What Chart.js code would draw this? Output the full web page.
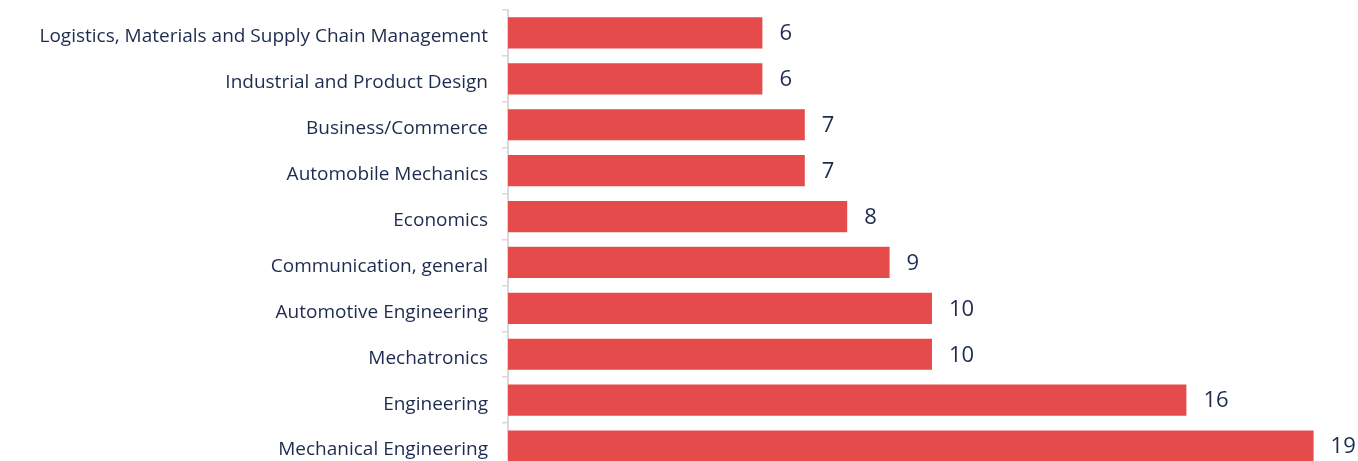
<!DOCTYPE html>
<html>
<head>
<meta charset="utf-8">
<script src="https://cdn.jsdelivr.net/npm/chart.js@4"></script>
<style>
  html, body { margin: 0; padding: 0; background: #fff; overflow: hidden; }
  canvas { display: block; }
</style>
</head>
<body>
<canvas id="chart" width="1358" height="470"></canvas>
<script>
const categories = [
  'Logistics, Materials and Supply Chain Management',
  'Industrial and Product Design',
  'Business/Commerce',
  'Automobile Mechanics',
  'Economics',
  'Communication, general',
  'Automotive Engineering',
  'Mechatronics',
  'Engineering',
  'Mechanical Engineering'
];
const counts = [6, 6, 7, 7, 8, 9, 10, 10, 16, 19];

const barColor = '#E54B4B';
const textColor = '#1d2b4f';

// value labels at the end of each bar
const valueLabels = {
  id: 'valueLabels',
  afterDatasetsDraw(chart) {
    const ctx = chart.ctx;
    const meta = chart.getDatasetMeta(0);
    ctx.save();
    ctx.font = '22px "Open Sans"';
    ctx.fillStyle = textColor;
    ctx.textAlign = 'left';
    ctx.textBaseline = 'middle';
    meta.data.forEach((bar, i) => {
      ctx.fillText(String(counts[i]), bar.x + 17, bar.y + 1);
    });
    ctx.restore();
  }
};

new Chart(document.getElementById('chart'), {
  type: 'bar',
  data: {
    labels: categories,
    datasets: [{
      data: counts,
      backgroundColor: barColor,
      borderWidth: 0,
      categoryPercentage: 0.68,
      barPercentage: 1
    }]
  },
  options: {
    indexAxis: 'y',
    responsive: false,
    devicePixelRatio: 1,
    animation: false,
    layout: { padding: { top: 10, right: 2, bottom: 1, left: 0 } },
    plugins: {
      legend: { display: false },
      tooltip: { enabled: false }
    },
    scales: {
      x: {
        display: false,
        min: 0,
        max: 20
      },
      y: {
        afterFit(scale) {
          scale.width = 508;
          scale.paddingTop = 0;
          scale.paddingBottom = 0;
        },
        border: { color: '#d9d9d9', width: 2 },
        grid: {
          drawOnChartArea: false,
          tickLength: 6,
          color: '#d9d9d9',
          lineWidth: 1.5
        },
        ticks: {
          color: textColor,
          padding: 14,
          labelOffset: 4,
          autoSkip: false,
          font: { family: '"Open Sans"', size: 19 }
        }
      }
    }
  },
  plugins: [valueLabels]
});
</script>
</body>
</html>
